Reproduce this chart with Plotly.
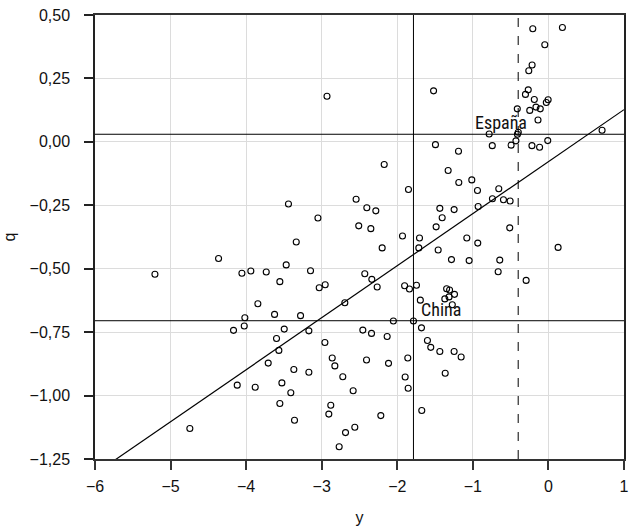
import plotly.graph_objects as go

# --- data ---
y_vals = [
    -2.93, -3.44, -3.05, -2.545, -2.51, -0.207, 0.185, -0.048, -0.216, -0.26,
    -1.52, -0.267, -0.304, -0.187, -0.004, -0.028, -0.412, -0.247, -0.165, -0.108,
    -0.138, -0.784, -0.399, -0.41, 0.71, -1.495, -0.743, -0.494, -0.43, -0.218,
    -0.117, -0.009, -1.19, -2.173, -1.327, -1.186, -1.014, -1.852, -0.939, -0.657,
    -0.741, -0.595, -0.507, -2.403, -2.284, -1.437, -1.248, -0.93, -1.406, -2.35,
    -1.486, -0.512, -1.931, -1.706, -1.08,
    -3.337, -4.365, -5.207, -4.056, -3.938, -3.734, -3.47, -3.148, -3.554, -3.033,
    -2.954, -3.845, -2.694, -3.624, -3.28, -4.017, -4.025, -4.167, -3.496, -3.17,
    -3.598, -2.958, -3.567, -2.861, -2.826, -3.708, -3.369, -3.17, -2.721, -4.118,
    -3.88, -3.527, -3.409, -2.584, -3.554, -2.88, -2.906, -3.36, -4.745, -2.562,
    -2.685, -2.769,
    -0.935, -2.2, -1.715, -1.459, -1.283, -1.049, -0.644, -0.665, 0.128, -0.295,
    -2.43, -2.337, -2.266, -1.903, -1.839, -1.746, -1.695, -1.347, -1.308, -1.243,
    -1.315, -1.371, -1.272, -2.052, -1.786, -2.456, -2.341, -2.134, -1.68, -1.601,
    -1.557, -1.437, -1.248, -1.155, -2.407, -2.116, -1.861, -1.896, -1.856, -1.366,
    -2.218, -1.676,
]
q_vals = [
    0.18, -0.245, -0.30, -0.226, -0.331, 0.446, 0.451, 0.383, 0.303, 0.280,
    0.201, 0.205, 0.187, 0.167, 0.166, 0.155, 0.130, 0.124, 0.137, 0.130,
    0.086, 0.031, 0.038, 0.030, 0.046, -0.011, -0.015, -0.013, 0.004, -0.015,
    -0.021, 0.005, -0.037, -0.089, -0.113, -0.160, -0.150, -0.188, -0.192, -0.185,
    -0.224, -0.228, -0.233, -0.260, -0.272, -0.262, -0.267, -0.255, -0.299, -0.342,
    -0.335, -0.339, -0.371, -0.379, -0.379,
    -0.395, -0.460, -0.522, -0.518, -0.509, -0.513, -0.485, -0.508, -0.551, -0.575,
    -0.563, -0.638, -0.634, -0.680, -0.685, -0.693, -0.726, -0.743, -0.738, -0.745,
    -0.775, -0.791, -0.822, -0.852, -0.883, -0.872, -0.897, -0.908, -0.926, -0.959,
    -0.967, -0.950, -0.989, -0.981, -1.031, -1.038, -1.073, -1.097, -1.130, -1.125,
    -1.146, -1.202,
    -0.399, -0.418, -0.418, -0.426, -0.464, -0.468, -0.466, -0.512, -0.416, -0.546,
    -0.520, -0.542, -0.572, -0.567, -0.580, -0.565, -0.624, -0.579, -0.584, -0.601,
    -0.611, -0.619, -0.642, -0.706, -0.706, -0.742, -0.755, -0.767, -0.733, -0.783,
    -0.810, -0.826, -0.826, -0.848, -0.860, -0.873, -0.852, -0.927, -0.971, -0.912,
    -1.079, -1.059,
]

labels = ["España", "China"]
label_y = [-0.40, -1.786]
label_q = [0.030, -0.705]

fit_intercept = -0.078
fit_slope = 0.205

x_ticks = [-6, -5, -4, -3, -2, -1, 0, 1]
q_ticks = [0.50, 0.25, 0.00, -0.25, -0.50, -0.75, -1.00, -1.25]

x_range = [-6, 1]
q_range = [-1.25, 0.50]

fig = go.Figure()

# regression line
fit_x = [x_range[0], x_range[1]]
fit_q = [fit_intercept + fit_slope * v for v in fit_x]
fig.add_trace(go.Scatter(x=fit_x, y=fit_q, mode="lines",
                         line=dict(color="black", width=1.2),
                         hoverinfo="skip", showlegend=False))

fig.add_trace(go.Scatter(x=y_vals, y=q_vals, mode="markers",
                         marker=dict(symbol="circle-open", size=6,
                                     color="black", line=dict(width=1.1)),
                         showlegend=False))

# reference lines through España (dashed vertical) and China (solid vertical)
dashes = ["dash", "solid"]
for name, xv, qv, d in zip(labels, label_y, label_q, dashes):
    fig.add_shape(type="line", xref="x", yref="paper", x0=xv, x1=xv, y0=0, y1=1,
                  line=dict(color="black", width=1, dash=d))
    fig.add_shape(type="line", xref="paper", yref="y", x0=0, x1=1, y0=qv, y1=qv,
                  line=dict(color="black", width=1))

label_font = dict(family="Liberation Sans Narrow, Roboto Condensed, Liberation Sans",
                  size=18, color="#111")
fig.add_annotation(x=label_y[0], y=label_q[0], text=labels[0], showarrow=False,
                   xanchor="center", yanchor="bottom", xshift=-17, yshift=-1,
                   font=label_font)
fig.add_annotation(x=label_y[1], y=label_q[1], text=labels[1], showarrow=False,
                   xanchor="left", yanchor="bottom", xshift=6, yshift=-1,
                   font=label_font)

tick_font = dict(family="Liberation Sans, Arial, sans-serif", size=16, color="#111")

fig.update_layout(
    width=630, height=529,
    margin=dict(l=95, r=6, t=15, b=70),
    paper_bgcolor="white", plot_bgcolor="white",
    separators=",.",
    font=tick_font,
)
fig.update_xaxes(range=x_range, tickvals=x_ticks, tickformat="d",
                 showgrid=True, gridcolor="#dcdcdc", gridwidth=1.3,
                 zeroline=False, showline=True, linecolor="#333", linewidth=1.5,
                 mirror=True, ticks="outside", ticklen=9, tickcolor="#333",
                 tickwidth=1.5, tickfont=tick_font, automargin=False,
                 ticklabelstandoff=3,
                 title=dict(text="y", font=tick_font, standoff=18))
fig.update_yaxes(range=q_range, tickvals=q_ticks, tickformat=".2f",
                 showgrid=True, gridcolor="#dcdcdc", gridwidth=1.3,
                 zeroline=False, showline=True, linecolor="#222", linewidth=1.5,
                 mirror=True, ticks="outside", ticklen=9, tickcolor="#222",
                 tickwidth=1.5, tickfont=tick_font, automargin=False,
                 ticklabelstandoff=11,
                 title=dict(text="q", font=tick_font, standoff=10))

fig.write_html("out.html", config={"displayModeBar": False},
               post_script="document.body.style.margin='0';")
